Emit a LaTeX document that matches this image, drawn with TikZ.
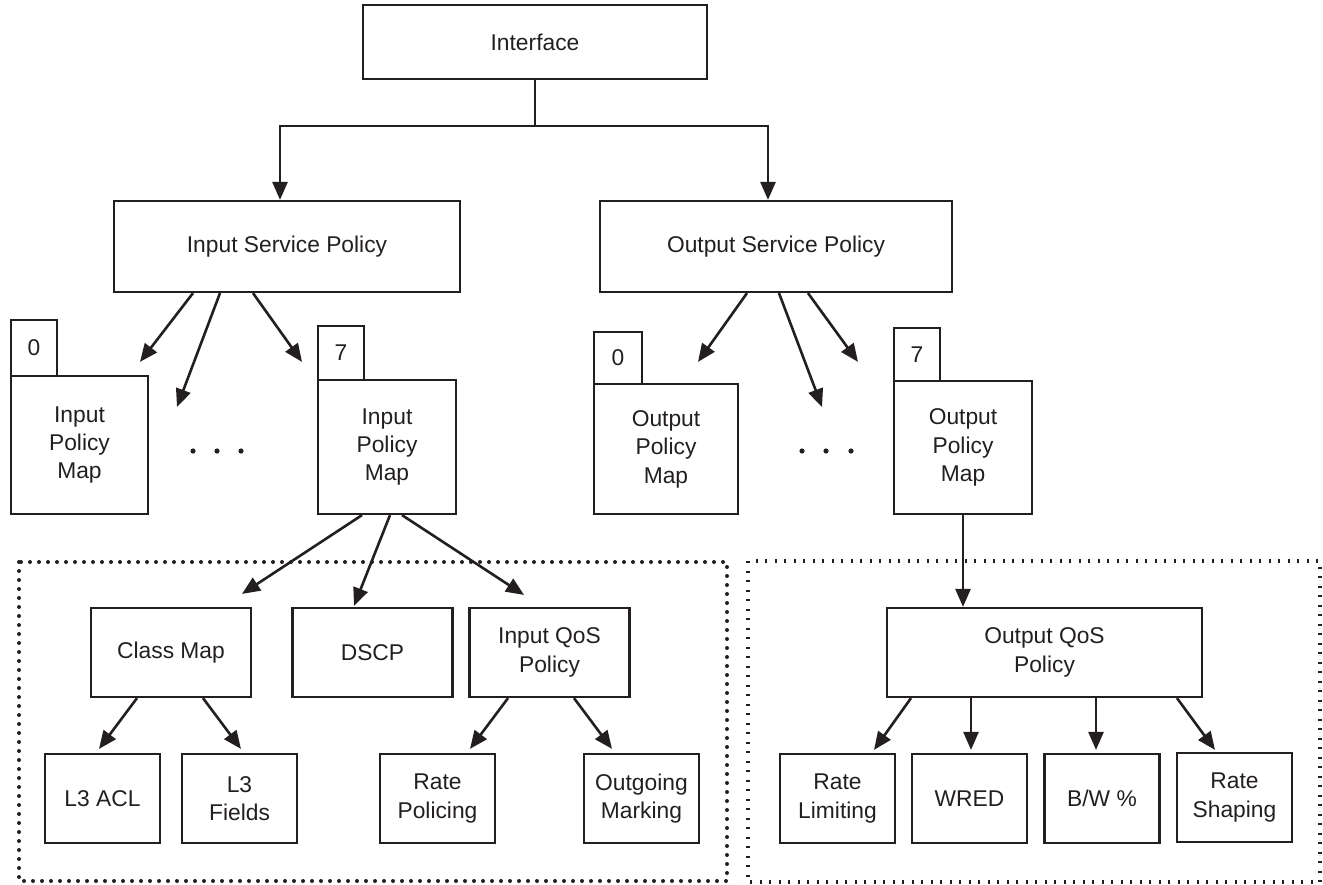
\documentclass[tikz,border=0pt]{standalone}
\usepackage{fontspec}
\setmainfont{Liberation Sans}
\usepackage{tikz}
\usetikzlibrary{arrows.meta,calc}
\definecolor{ink}{HTML}{231F20}
\tikzset{
  plainbox/.style={draw=ink,line width=1.1pt,align=center,inner sep=2pt,
                   text=ink,font=\fontsize{11.4}{14.2}\selectfont},
  tabbox/.style={plainbox,minimum width=23pt},
  midbox/.style={plainbox,minimum width=80pt,minimum height=44.5pt},
  leafbox/.style={plainbox,minimum width=57.5pt,minimum height=44.5pt},
  flowarr/.style={-{Triangle[length=9pt,width=7.5pt]},line width=1.3pt,draw=ink},
  dotframe/.style={draw=ink,line width=2pt,line cap=round,dash pattern=on 0pt off 4.5pt},
  tickframe/.style={draw=ink,line width=1.6pt,dash pattern=on 1pt off 3.75pt}
}
\begin{document}
\begin{tikzpicture}[x=0.5pt,y=-0.5pt,>=Latex]
	\useasboundingbox (0,0) rectangle (1323,884);
	\node[plainbox,minimum width=172pt,minimum height=37pt] (iface) at (535,42) {Interface};
	\node[plainbox,minimum width=173pt,minimum height=45.5pt] (isp) at (287,246.5) {Input Service Policy};
	\node[plainbox,minimum width=176pt,minimum height=45.5pt] (osp) at (776,246.5) {Output Service Policy};

	\coordinate (split) at (535,126);
	\draw[draw=ink,line width=0.9pt] (iface.south) -- (split);
	\draw[flowarr] (split) -| ($(isp.north)+(-7,0)$);
	\draw[flowarr] (split) -| ($(osp.north)+(-8,0)$);

	\node[tabbox,minimum height=28pt] (itab0) at (34,348) {0};
	\node[plainbox,minimum width=68.5pt,minimum height=69pt] (imap0) at (79.5,445) {Input\\Policy\\Map};
	\node[tabbox,minimum height=27pt] (itab7) at (341,353) {7};
	\node[plainbox,minimum width=69pt,minimum height=67pt] (imap7) at (387,447) {Input\\Policy\\Map};
	\node[tabbox,minimum width=24pt,minimum height=26pt] (otab0) at (618,358) {0};
	\node[plainbox,minimum width=72pt,minimum height=65pt] (omap0) at (666,449) {Output\\Policy\\Map};
	\node[tabbox,minimum height=26.5pt] (otab7) at (917,354.5) {7};
	\node[plainbox,minimum width=69pt,minimum height=66.5pt] (omap7) at (963,447.5) {Output\\Policy\\Map};

	\foreach \x in {193,217,241,802,826,851}
	  \fill[ink] (\x,451) circle (1.3pt);

	\coordinate (igap) at (177,407);
	\coordinate (ogap) at (822,407);
	\draw[flowarr] ($(isp.south)+(-94,0)$) -- ($(imap0.north)+(60.5,-13)$);
	\draw[flowarr] ($(isp.south)+(-67,0)$) -- (igap);
	\draw[flowarr] ($(isp.south)+(-34,0)$) -- ($(imap7.north)+(-85,-17)$);
	\draw[flowarr] ($(osp.south)+(-29,0)$) -- ($(omap0.north)+(32,-21)$);
	\draw[flowarr] ($(osp.south)+(3,0)$) -- (ogap);
	\draw[flowarr] ($(osp.south)+(32,0)$) -- ($(omap7.north)+(-105,-18)$);

	\draw[dotframe] (19,562) rectangle (727,881);
	\draw[tickframe] (748,561) rectangle (1320,882);

	\node[midbox] (cmap) at (171,652.5) {Class Map};
	\node[midbox] (dscp) at (372.5,652.5) {DSCP};
	\node[midbox] (iqos) at (549.5,652.5) {Input QoS\\Policy};
	\node[leafbox] (l3acl) at (102.5,798.5) {L3 ACL};
	\node[leafbox] (l3fld) at (239.5,798.5) {L3\\Fields};
	\node[leafbox] (rpol) at (437.5,798.5) {Rate\\Policing};
	\node[leafbox] (omark) at (641.5,798.5) {Outgoing\\Marking};

	\node[midbox,minimum width=157.5pt] (oqos) at (1044.5,652.5) {Output QoS\\Policy};
	\node[leafbox] (rlim) at (837.5,798.5) {Rate\\Limiting};
	\node[leafbox] (wred) at (969.5,798.5) {WRED};
	\node[leafbox] (bw) at (1102,798.5) {B/W \%};
	\node[leafbox] (rshp) at (1234.5,797.5) {Rate\\Shaping};

	\draw[flowarr] ($(imap7.south)+(-25,0)$) -- ($(cmap.north)+(71,-13)$);
	\draw[flowarr] ($(imap7.south)+(3,0)$) -- ($(dscp.north)+(-18.5,-1)$);
	\draw[flowarr] ($(imap7.south)+(15,0)$) -- ($(iqos.north)+(-25.5,-12)$);
	\draw[flowarr] ($(cmap.south)+(-34,0)$) -- ($(l3acl.north)+(-3.5,-4)$);
	\draw[flowarr] ($(cmap.south)+(32,0)$) -- ($(l3fld.north)+(1.5,-4)$);
	\draw[flowarr] ($(iqos.south)+(-41.5,0)$) -- ($(rpol.north)+(32.5,-4)$);
	\draw[flowarr] ($(iqos.south)+(24.5,0)$) -- ($(omark.north)+(-29.5,-4)$);

	\draw[flowarr] (omap7.south) -- (omap7.south |- oqos.north);
	\draw[flowarr] ($(oqos.south)+(-133.5,0)$) -- ($(rlim.north)+(36.5,-3)$);
	\draw[flowarr] ($(oqos.south)+(-73.5,0)$) -- ($(wred.north)+(1.5,-3)$);
	\draw[flowarr] ($(oqos.south)+(51.5,0)$) -- ($(bw.north)+(-6,-3)$);
	\draw[flowarr] ($(oqos.south)+(132.5,0)$) -- ($(rshp.north)+(-19.5,-2)$);
\end{tikzpicture}
\end{document}
